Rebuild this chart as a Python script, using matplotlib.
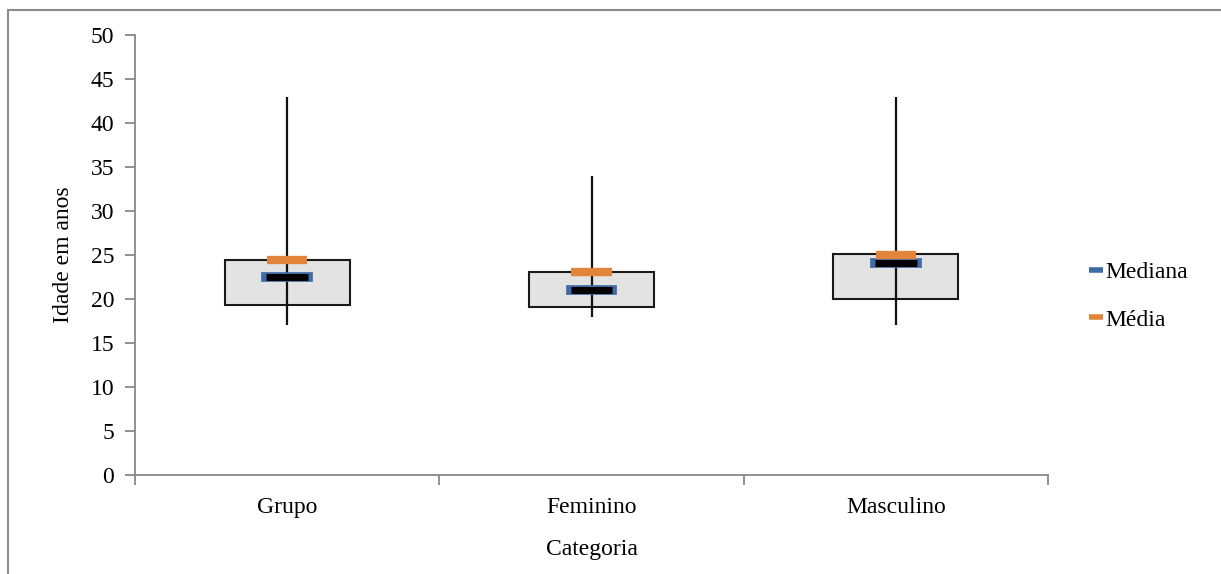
import matplotlib
matplotlib.use("Agg")
import matplotlib.pyplot as plt
import matplotlib.patheffects as pe
from matplotlib.lines import Line2D
from matplotlib.patches import Rectangle
import numpy as np

categorias = ["Grupo", "Feminino", "Masculino"]
minimo = [17, 18, 17]
q1 = [19.3, 19.1, 20.0]
mediana = [22.5, 21.0, 24.1]
q3 = [24.4, 23.1, 25.1]
maximo = [43, 34, 43]
media = [24.4, 23.1, 25.0]

plt.rcParams['font.family'] = ['Liberation Serif', 'DejaVu Serif']
plt.rcParams['font.size'] = 17

azul = '#3E6BA8'
laranja = '#E2843A'
cinza = '#888888'

fig = plt.figure(figsize=(12.21, 5.74), dpi=100)
W, H = 1221, 574
ax = fig.add_axes([135 / W, (H - 475) / H, (1048 - 135) / W, (475 - 35) / H])

x = np.arange(len(categorias))
q1a = np.array(q1)
q3a = np.array(q3)

# caixas
ax.bar(x, q3a - q1a, bottom=q1a, width=0.41, color='#E3E3E3',
       edgecolor='#1a1a1a', linewidth=1.5, zorder=2)
# linhas min-max
ax.vlines(x, minimo, maximo, color='#111111', linewidth=1.6, zorder=3)
# mediana
ax.hlines(mediana, x - 0.068, x + 0.068, color='black', linewidth=5,
          zorder=4, capstyle='butt',
          path_effects=[pe.Stroke(linewidth=7, foreground=azul, capstyle='projecting'),
                        pe.Normal()])
# media
ax.hlines(media, x - 0.066, x + 0.066, color=laranja, linewidth=6, zorder=5)

ax.set_xlim(-0.5, 2.5)
ax.set_ylim(0, 50)
ax.set_yticks(np.arange(0, 51, 5))
ax.set_xticks([-0.5, 0.5, 1.5, 2.5])
ax.set_xticklabels([])
ax.set_xticks(x, minor=True)
ax.set_xticklabels(categorias, minor=True)
ax.tick_params(axis='x', which='minor', length=0, pad=16)
ax.tick_params(axis='x', which='major', length=7, color=cinza, width=1.3)
ax.tick_params(axis='y', length=7, color=cinza, width=1.3, pad=8)

for s in ['top', 'right']:
    ax.spines[s].set_visible(False)
for s in ['left', 'bottom']:
    ax.spines[s].set_color(cinza)
    ax.spines[s].set_linewidth(1.3)

ax.set_ylabel("Idade em anos", labelpad=12)
ax.set_xlabel("Categoria", labelpad=15)

handles = [Line2D([], [], color=azul, linewidth=4, solid_capstyle='butt'),
           Line2D([], [], color=laranja, linewidth=4, solid_capstyle='butt')]
fig.legend(handles, ["Mediana", "Média"], loc='center left',
           bbox_to_anchor=(1068 / W, (H - 296) / H), frameon=False,
           handlelength=0.6, handletextpad=0.1, labelspacing=1.1)

# moldura
fig.patches.append(Rectangle((8 / W, -0.1), 1.2, (H - 10) / H + 0.1,
                             transform=fig.transFigure, fill=False,
                             edgecolor='#8c8c8c', linewidth=1.5))

fig.savefig("out.png", dpi=100)
